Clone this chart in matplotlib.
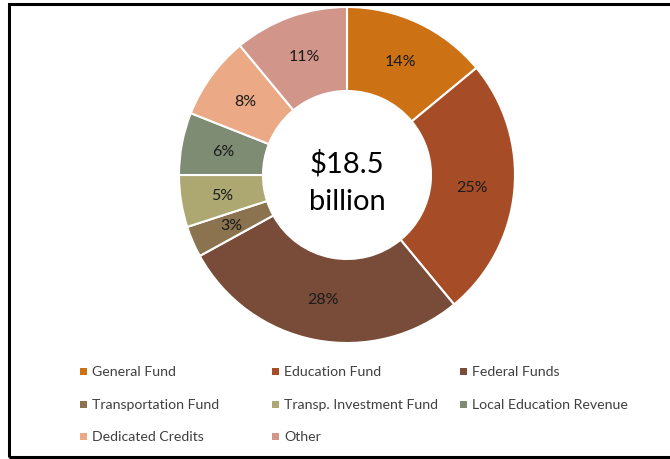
import matplotlib
matplotlib.use("Agg")
import matplotlib.pyplot as plt
from matplotlib.patches import Rectangle

categories = ["General Fund", "Education Fund", "Federal Funds",
              "Transportation Fund", "Transp. Investment Fund", "Local Education Revenue",
              "Dedicated Credits", "Other"]
values = [14, 25, 28, 3, 5, 6, 8, 11]
colors = ["#CC7214", "#A64D28", "#784C39", "#8B7350", "#ADA872", "#7F8C74",
          "#EBA985", "#D1958A"]
center_text = "$18.5\nbillion"

plt.rcParams['font.family'] = ['Lato', 'DejaVu Sans']

W, H = 670, 460
fig = plt.figure(figsize=(W / 100, H / 100), dpi=100)

# frame
fig.add_artist(Rectangle((9 / W, 2 / H), 1.0, (459 - 4 - 2) / H + 0.0,
                         transform=fig.transFigure, fill=False,
                         edgecolor="black", linewidth=2.2))

cx, cy, r = 347, 176, 168
ax = fig.add_axes([(cx - r) / W, (H - cy - r) / H, 2 * r / W, 2 * r / H])
wedges, texts, autotexts = ax.pie(
    values, colors=colors, startangle=90, counterclock=False,
    wedgeprops=dict(width=0.5, edgecolor="white", linewidth=1.5),
    autopct=lambda p: f"{p:.0f}%", pctdistance=0.75,
    textprops=dict(fontsize=11.5, color="#1a1a1a"))
ax.set_xlim(-1, 1)
ax.set_ylim(-1, 1)
ax.set_aspect("equal")
ax.axis("off")
ax.text(0, -0.04, center_text, ha="center", va="center", fontsize=21,
        color="black", linespacing=1.55)

# legend
col_x = [80, 272, 460]
row_y = [372, 405, 437]
for i, (cat, col) in enumerate(zip(categories, colors)):
    c, rr = i % 3, i // 3
    x, y = col_x[c], row_y[rr]
    fig.add_artist(Rectangle((x / W, (H - y - 3.5) / H), 7 / W, 7 / H,
                             transform=fig.transFigure, facecolor=col,
                             edgecolor="none"))
    fig.text((x + 12) / W, (H - y) / H, cat, ha="left", va="center",
             fontsize=10.2, color="#404040")

fig.savefig("out.png", dpi=100)
